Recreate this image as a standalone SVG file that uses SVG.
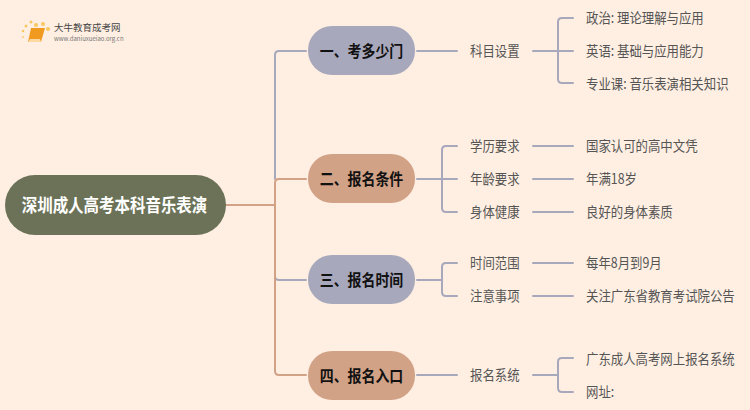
<svg xmlns="http://www.w3.org/2000/svg" width="750" height="410" viewBox="0 0 750 410">
<style>
text{font-family:"Noto Sans CJK SC","Noto Sans",sans-serif}
.l{font-size:14.1px;fill:#555;dominant-baseline:central}
.b{font-size:16px;font-weight:700;fill:#111;text-anchor:middle;dominant-baseline:central}
.c{fill:none;stroke-width:2;stroke-linecap:round}
.g{stroke:#a8a8bc}
.o{stroke:#d2a287}
</style>
<rect width="750" height="410" fill="#ffefe2"/>
<g id="connectors">
<path class="c o" d="M226 205H274"/>
<path class="c g" d="M275 179V55Q275 51 279 51H306"/>
<path class="c o" d="M275 205V183Q275 179 279 179H306"/>
<path class="c o" d="M275 205V276"/>
<path class="c g" d="M275 276Q275 280 279 280H306"/>
<path class="c o" d="M275 276V371Q275 375 279 375H306"/>
<path class="c g" d="M417 51H457"/>
<path class="c g" d="M417 179H457M442 179V150Q442 146 446 146H457M442 179V208Q442 212 446 212H457"/>
<path class="c g" d="M417 280H442M442 280V267Q442 263 446 263H457M442 280V292Q442 296 446 296H457"/>
<path class="c g" d="M417 375H457"/>
<path class="c g" d="M533 51H573M558 51V22Q558 18 562 18H573M558 51V79Q558 83 562 83H573"/>
<path class="c g" d="M533 146H573M533 179H573M533 212H573M533 263H573M533 296H573"/>
<path class="c g" d="M533 375H558M558 375V362Q558 358 562 358H573M558 375V388Q558 392 562 392H573"/>
</g>
<g id="logo">
<circle cx="36" cy="25" r="2" fill="#f8c860"/><circle cx="31" cy="22" r="1.5" fill="#f8c860"/><circle cx="26" cy="26" r="1.5" fill="#f8c860"/><circle cx="23" cy="31" r="1.3" fill="#f8c860"/><circle cx="23" cy="37" r="1.2" fill="#f8d890"/><circle cx="43" cy="24" r="2" fill="#f8c860"/><circle cx="48" cy="29" r="2" fill="#f8c860"/>
<path d="M31 28H45L41 42H28Z" fill="#f09a20"/><path d="M28 42H41L40 39H30Z" fill="#fbd9a0"/>
<text x="54" y="31" font-size="9.5" fill="#444">大牛教育成考网</text>
<text x="54" y="41" font-size="6" fill="#777">www.daniuxueiao.org.cn</text>
</g>
<g id="root"><rect x="5" y="175" width="221" height="60" rx="30" fill="#6b7257"/><text transform="translate(114.500 204.500) scale(.86 1)" text-anchor="middle" dominant-baseline="central" font-size="18" font-weight="700" fill="#fff">深圳成人高考本科音乐表演</text></g>
<g id="n1"><rect x="308" y="26" width="107" height="49" rx="24" fill="#a8a8bc"/><text class="b" transform="translate(361.500 50.500) scale(.87 1)">一、考多少门</text></g>
<g id="n2"><rect x="308" y="154" width="107" height="49" rx="24" fill="#d2a287"/><text class="b" transform="translate(361.500 178.500) scale(.87 1)">二、报名条件</text></g>
<g id="n3"><rect x="308" y="255" width="107" height="49" rx="24" fill="#a8a8bc"/><text class="b" transform="translate(361.500 279.500) scale(.87 1)">三、报名时间</text></g>
<g id="n4"><rect x="308" y="351" width="107" height="49" rx="24" fill="#d2a287"/><text class="b" transform="translate(361.500 375.500) scale(.87 1)">四、报名入口</text></g>
<g id="labels">
<text class="l" transform="translate(470 50.500) scale(.88 1)">科目设置</text>
<text class="l" transform="translate(470 145.500) scale(.88 1)">学历要求</text>
<text class="l" transform="translate(470 178.500) scale(.88 1)">年龄要求</text>
<text class="l" transform="translate(470 211.500) scale(.88 1)">身体健康</text>
<text class="l" transform="translate(470 262.500) scale(.88 1)">时间范围</text>
<text class="l" transform="translate(470 295.500) scale(.88 1)">注意事项</text>
<text class="l" transform="translate(470 374.500) scale(.88 1)">报名系统</text>
<text class="l" transform="translate(586 17.500) scale(.88 1)">政治: 理论理解与应用</text>
<text class="l" transform="translate(586 50.500) scale(.88 1)">英语: 基础与应用能力</text>
<text class="l" transform="translate(586 83.500) scale(.88 1)">专业课: 音乐表演相关知识</text>
<text class="l" transform="translate(586 145.500) scale(.88 1)">国家认可的高中文凭</text>
<text class="l" transform="translate(586 178.500) scale(.88 1)">年满18岁</text>
<text class="l" transform="translate(586 211.500) scale(.88 1)">良好的身体素质</text>
<text class="l" transform="translate(586 262.500) scale(.88 1)">每年8月到9月</text>
<text class="l" transform="translate(586 295.500) scale(.88 1)">关注广东省教育考试院公告</text>
<text class="l" transform="translate(586 358.500) scale(.88 1)">广东成人高考网上报名系统</text>
<text class="l" transform="translate(586 391.500) scale(.88 1)">网址:</text>
</g>
</svg>
